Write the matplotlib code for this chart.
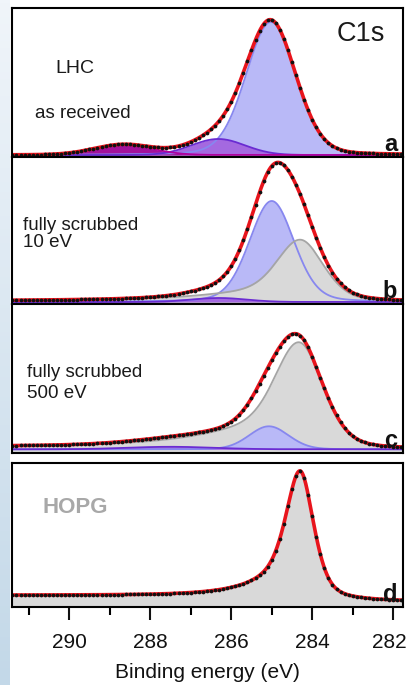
import numpy as np
import matplotlib
matplotlib.use("Agg")
from matplotlib import pyplot as plt
from matplotlib.transforms import ScaledTranslation

plt.rcParams["font.family"] = ["Liberation Sans", "DejaVu Sans"]

# binding energy axis
x_limits = (291.41, 281.76)
x_major = [290, 288, 286, 284, 282]
x_minor = [291, 289, 287, 285, 283]
data_step = 0.1  # eV between measured points

# fitted components
# centre (eV), height (a.u.), FWHM (eV), Lorentzian fraction,
# high-BE tail amplitude, tail decay (eV), tail onset (eV)
a_kinds = ["blue", "purple", "magenta"]
a_centre = [285.02, 286.32, 288.65]
a_height = [133.0, 16.0, 10.0]
a_fwhm = [1.45, 1.55, 1.70]
a_eta = [0.15, 0.0, 0.0]
a_tail = [0.0, 0.0, 0.0]
a_decay = [1.0, 1.0, 1.0]
a_onset = [1.0, 1.0, 1.0]
a_shirley = 0.0

b_kinds = ["blue", "grey", "purple"]
b_centre = [285.00, 284.30, 286.30]
b_height = [101.0, 62.0, 4.0]
b_fwhm = [1.30, 1.35, 1.60]
b_eta = [0.2, 0.3, 0.0]
b_tail = [0.0, 0.40, 0.0]
b_decay = [1.0, 1.44, 1.0]
b_onset = [1.0, 0.9, 1.0]
b_shirley = 1.3

c_kinds = ["grey", "blue", "purple"]
c_centre = [284.33, 285.07, 287.50]
c_height = [106.0, 23.0, 2.5]
c_fwhm = [1.40, 1.15, 2.50]
c_eta = [0.3, 0.1, 0.0]
c_tail = [0.51, 0.0, 0.0]
c_decay = [1.44, 1.0, 1.0]
c_onset = [0.9, 1.0, 1.0]
c_shirley = 3.0

d_kinds = ["grey"]
d_centre = [284.30]
d_height = [128.0]
d_fwhm = [0.80]
d_eta = [0.5]
d_tail = [0.305]
d_decay = [0.82]
d_onset = [0.4]
d_shirley = 6.5

panel_letters = ["a", "b", "c", "d"]

fill_colour = {"blue": "#b9b9f7", "purple": "#a469e0", "magenta": "#a3119b", "grey": "#d9d9d9"}
edge_colour = {"blue": "#8787ef", "purple": "#6a2bd2", "magenta": "#b0009f", "grey": "#a5a5a5"}


def component(e, centre, height, fwhm, eta, tail, decay, onset):
    dx = e - centre
    g = np.exp(-4 * np.log(2) * dx**2 / fwhm**2)
    lor = 1 / (1 + 4 * dx**2 / fwhm**2)
    hi = np.clip(dx, 0, None)
    t = tail * np.exp(-hi / decay) * (1 - np.exp(-hi**2 / (2 * onset**2)))
    return height * ((1 - eta) * g + eta * lor + t)


panels = [
    (a_kinds, a_centre, a_height, a_fwhm, a_eta, a_tail, a_decay, a_onset, a_shirley),
    (b_kinds, b_centre, b_height, b_fwhm, b_eta, b_tail, b_decay, b_onset, b_shirley),
    (c_kinds, c_centre, c_height, c_fwhm, c_eta, c_tail, c_decay, c_onset, c_shirley),
    (d_kinds, d_centre, d_height, d_fwhm, d_eta, d_tail, d_decay, d_onset, d_shirley),
]

W, H = 409, 685
fig = plt.figure(figsize=(W / 100, H / 100), dpi=100)

# light blue band down the left edge
band = fig.add_axes([0, 0, 10 / W, 1])
band.imshow(np.linspace(0, 1, 200).reshape(-1, 1), aspect="auto", cmap=matplotlib.colors.LinearSegmentedColormap.from_list("b", ["#f0f5fa", "#c3d8e8"]), extent=(0, 1, 0, 1))
band.set_axis_off()

panel_px = [(8, 157), (157, 304), (304, 453), (463, 607)]
y_limits = [(-2, 147), (-2, 145), (-3.7, 145.3), (-5.3, 138.7)]

energy = np.linspace(x_limits[1], x_limits[0], 1500)
data_energy = np.arange(281.8, 291.41, data_step)

axes = []
for i, (top, bottom) in enumerate(panel_px):
    ax = fig.add_axes([12 / W, 1 - bottom / H, 391 / W, (bottom - top) / H])
    kinds, centre, height, fwhm, eta, tail, decay, onset, shirley = panels[i]
    comps = [component(energy, *p) for p in zip(centre, height, fwhm, eta, tail, decay, onset)]
    peaks = np.sum(comps, axis=0)
    cum = np.cumsum(peaks)
    bg = shirley * cum / cum[-1]
    envelope = peaks + bg

    for kind, comp in zip(kinds, comps):
        curve = comp + bg if kind == "grey" else comp
        base = y_limits[i][0] if kind == "grey" else 0
        ax.fill_between(energy, base, curve, color=fill_colour[kind], lw=0)
        ax.plot(energy, curve, color=edge_colour[kind], lw=1.3)

    ax.plot(energy, envelope, color="#e8141c", lw=2.6, solid_capstyle="round")
    data_comps = [component(data_energy, *p) for p in zip(centre, height, fwhm, eta, tail, decay, onset)]
    dpk = np.sum(data_comps, axis=0)
    dbg = shirley * np.interp(data_energy, energy, cum / cum[-1])
    ax.plot(data_energy, dpk + dbg, "o", color="#111111", ms=2.7, mew=0)

    ax.set_xlim(x_limits)
    ax.set_ylim(y_limits[i])
    for s in ax.spines.values():
        s.set_linewidth(1.5)
    ax.set_yticks([])
    ax.text(0.985, 0.04, panel_letters[i], transform=ax.transAxes, ha="right", va="baseline",
            fontsize=17, fontweight="bold", color="#111111")
    axes.append(ax)

for ax in axes[:3]:
    ax.tick_params(axis="x", bottom=False, labelbottom=False)

ax = axes[3]
ax.set_xticks(x_major)
ax.set_xticks(x_minor, minor=True)
ax.tick_params(axis="x", which="major", direction="out", length=9, width=1.5, labelsize=15, pad=10, colors="#111111")
ax.tick_params(axis="x", which="minor", direction="out", length=5.5, width=1.5)
ax.set_xlabel("Binding energy (eV)", fontsize=15, labelpad=8, color="#111111")
# nudge the last label so it stays inside the figure
last = ax.get_xticklabels()[-1]
last.set_transform(last.get_transform() + ScaledTranslation(-4 / 100, 0, fig.dpi_scale_trans))


def label(x, y, s, color="#1a1a1a", **kw):
    fig.text(x / W, 1 - y / H, s, va="baseline", ha="left", color=color, **kw)


label(337, 41, "C1s", fontsize=19.5)
label(55, 73, "LHC", fontsize=14)
label(35, 118, "as received", fontsize=13.5)
label(23, 230, "fully scrubbed", fontsize=13.5)
label(23, 247, "10 eV", fontsize=13.5)
label(27, 377, "fully scrubbed", fontsize=13.5)
label(27, 398, "500 eV", fontsize=13.5)
label(42, 513, "HOPG", fontsize=16, fontweight="bold", color="#a8a8a8")

fig.savefig("out.png", dpi=100)
